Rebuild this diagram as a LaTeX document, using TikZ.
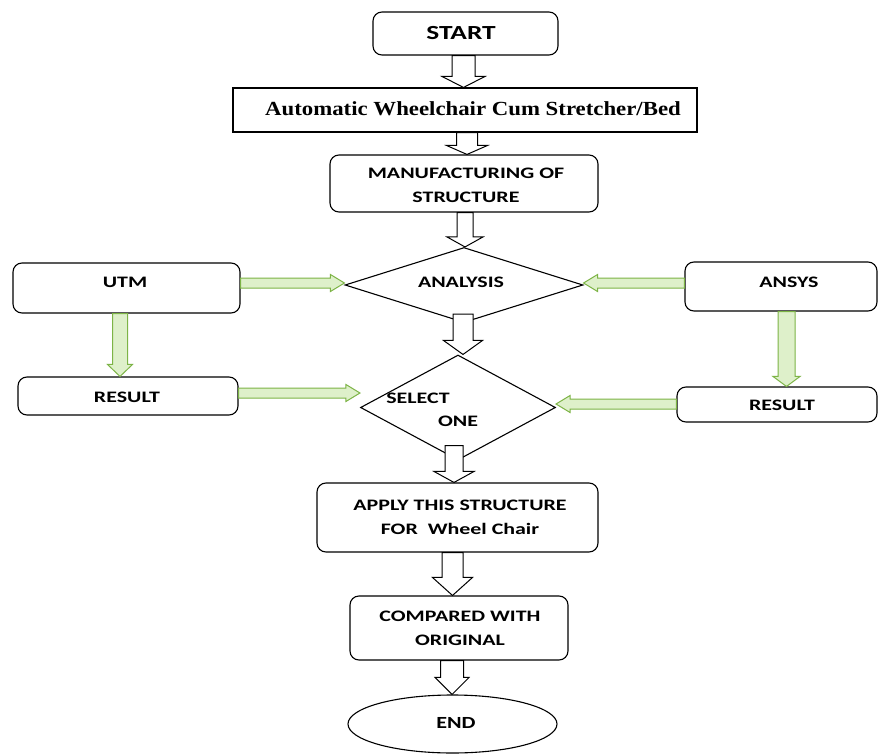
\documentclass[tikz,border=0pt]{standalone}
\usepackage{fontspec}
\setsansfont{Carlito}
\newfontfamily\serifbold{Liberation Serif}
\usetikzlibrary{shapes.geometric,calc}

\definecolor{gline}{RGB}{125,180,70}
\definecolor{gfill}{RGB}{222,240,202}

\newcommand{\wtxt}[1]{\scalebox{1.37}[1]{#1}}

% vertical block arrow (downwards): from #1 to #2, half shaft #3, half head #4, head length #5, style #6
\newcommand{\varrow}[6]{\draw[#6] let \p1=(#1), \p2=(#2) in
 ({\x1-#3},\y1) -- ({\x1-#3},{\y2+#5}) -- ({\x1-#4},{\y2+#5}) -- (\x1,\y2) --
 ({\x1+#4},{\y2+#5}) -- ({\x1+#3},{\y2+#5}) -- ({\x1+#3},\y1) -- cycle;}

% horizontal block arrow: from #1 to #2 (at the height of #1), signed head length #5
\newcommand{\harrow}[6]{\draw[#6] let \p1=(#1), \p2=(#2) in
 (\x1,{\y1-#3}) -- ({\x2-(#5)},{\y1-#3}) -- ({\x2-(#5)},{\y1-#4}) -- (\x2,\y1) --
 ({\x2-(#5)},{\y1+#4}) -- ({\x2-(#5)},{\y1+#3}) -- (\x1,{\y1+#3}) -- cycle;}

\tikzset{
  box/.style={draw, line width=1.1pt, rounded corners=9pt, inner sep=0pt},
  sqbox/.style={draw, line width=1.1pt, inner sep=0pt},
  dia/.style={draw, diamond, line width=1.1pt, inner sep=0pt},
  ell/.style={draw, ellipse, line width=1.1pt, inner sep=0pt},
  txt/.style={inner sep=0pt, font=\sffamily\bfseries\fontsize{16}{24}\selectfont, align=center},
  barrow/.style={draw=black, fill=white, line width=1pt, line join=miter},
  garrow/.style={draw=gline, fill=gfill, line width=1pt, line join=miter}
}

\begin{document}
\begin{tikzpicture}[x=1pt,y=-1pt]
\fill[white] (0,0) rectangle (879,755);
\useasboundingbox (0,0) rectangle (879,755);

% shapes
\node[box, minimum width=185pt, minimum height=43pt] (start) at (465.5,33.5) {};
\node[sqbox, minimum width=464pt, minimum height=44pt] (auto) at (465,110) {};
\node[box, minimum width=268pt, minimum height=57pt] (manuf) at (464,183.5) {};
\node[dia, minimum width=238pt, minimum height=75pt] (ana) at (464,285) {};
\node[box, minimum width=227pt, minimum height=50pt] (utm) at (126.5,288) {};
\node[box, minimum width=192pt, minimum height=49pt] (ansys) at (781,286.5) {};
\node[box, minimum width=220pt, minimum height=38pt] (resl) at (128,396) {};
\node[box, minimum width=200pt, minimum height=35pt] (resr) at (777,404.5) {};
\node[dia, minimum width=195pt, minimum height=105pt] (sel) at (458,407.5) {};
\node[box, minimum width=281pt, minimum height=69pt] (apply) at (457.5,517.5) {};
\node[box, minimum width=218pt, minimum height=64pt] (comp) at (459,628) {};
\node[ell, minimum width=209pt, minimum height=58pt] (end) at (452.5,724) {};

% texts
\node[txt, font=\sffamily\bfseries\fontsize{20}{24}\selectfont] (startt) at (461,33) {\wtxt{START}};
\node[inner sep=0pt, font=\serifbold\bfseries\fontsize{20}{24}\selectfont] (autot) at (473,109) {\scalebox{1.14}[1]{Automatic Wheelchair Cum Stretcher/Bed}};
\node[txt] (manuft) at (466,185) {\wtxt{MANUFACTURING OF}\\\wtxt{STRUCTURE}};
\node[txt] (anat) at (461,282) {\wtxt{ANALYSIS}};
\node[txt] (utmt) at (125,282) {\wtxt{UTM}};
\node[txt] (ansyst) at (789,282) {\wtxt{ANSYS}};
\node[txt] (reslt) at (127,397) {\wtxt{RESULT}};
\node[txt] (resrt) at (782,405) {\wtxt{RESULT}};
\node[txt] (selt) at (418,398) {\wtxt{SELECT}};
\node[txt] (onet) at (458,421) {\wtxt{ONE}};
\node[txt] (applyt) at (460,517.5) {\wtxt{APPLY THIS STRUCTURE}\\\wtxt{FOR\ \ Wheel Chair}};
\node[txt] (compt) at (460,628.5) {\wtxt{COMPARED WITH}\\\wtxt{ORIGINAL}};
\node[txt, font=\sffamily\bfseries\fontsize{17}{20}\selectfont] (endt) at (456,723) {\scalebox{1.3}[1]{END}};

% black block arrows
\varrow{$(start.south)+(-2,0)$}{auto.north}{11.5pt}{21.5pt}{11pt}{barrow}
\varrow{$(auto.south)+(2,0)$}{manuf.north}{10.5pt}{20.5pt}{9pt}{barrow}
\varrow{$(manuf.south)+(1,0)$}{ana.north}{8pt}{18pt}{10pt}{barrow}
\varrow{$(ana.south)+(-1,-9)$}{sel.north}{10pt}{19.5pt}{14pt}{barrow}
\varrow{$(sel.south)+(-4,-15)$}{apply.north}{9pt}{20pt}{11pt}{barrow}
\varrow{$(apply.south)+(-5,0)$}{comp.north}{10.5pt}{20pt}{18pt}{barrow}
\varrow{$(comp.south)+(-7,0)$}{end.north}{11.5pt}{17pt}{17pt}{barrow}

% green block arrows
\harrow{$(utm.east)+(0,-5)$}{ana.west}{5pt}{8.5pt}{14pt}{garrow}
\harrow{$(ansys.west)+(0,-3.5)$}{ana.east}{5pt}{8.5pt}{-14pt}{garrow}
\varrow{$(utm.south)+(-6.5,0)$}{resl.north}{7.5pt}{12.5pt}{12pt}{garrow}
\varrow{$(ansys.south)+(5.5,0)$}{resr.north}{8.5pt}{13.5pt}{10pt}{garrow}
\harrow{$(resl.east)+(0,-3)$}{sel.west}{5pt}{8.5pt}{14pt}{garrow}
\harrow{$(resr.west)+(0,-0.5)$}{sel.east}{5pt}{8.5pt}{-14pt}{garrow}
\end{tikzpicture}
\end{document}
